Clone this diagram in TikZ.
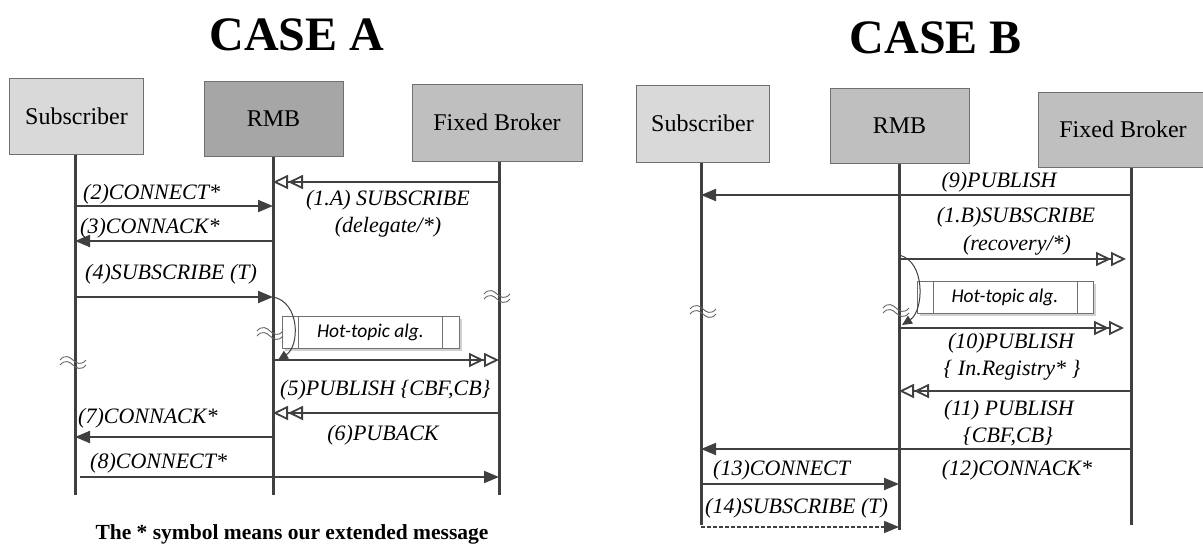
\documentclass[tikz,border=0pt]{standalone}
\usepackage{fontspec}
\setmainfont{Liberation Serif}
\newfontfamily\algfont{Carlito}
\usetikzlibrary{arrows.meta,shadows}
\definecolor{ink}{HTML}{404040}
\definecolor{boxline}{HTML}{707070}
\definecolor{fillA}{HTML}{D9D9D9}
\definecolor{fillB}{HTML}{A6A6A6}
\definecolor{fillC}{HTML}{BFBFBF}
\begin{document}
\begin{tikzpicture}[x=1pt,y=-1pt,
  actor/.style={draw=boxline, line width=1pt, inner sep=0pt,
    font=\fontsize{24}{28}\selectfont},
  life/.style={draw=ink, line width=3pt},
  msg/.style={draw=ink, line width=2pt, -{Triangle[length=15pt,width=12pt]}},
  dmsg/.style={draw=ink, line width=2pt,
    -{Triangle[open,length=15pt,width=14pt,line width=1.8pt]Triangle[open,length=15pt,width=14pt,line width=1.8pt]}},
  lbl/.style={font=\fontsize{22}{26}\selectfont\itshape, inner sep=0pt, anchor=base},
  lbll/.style={lbl, anchor=base west},
  title/.style={font=\fontsize{48}{54}\selectfont\bfseries, inner sep=0pt, anchor=base},
  alg/.style={draw=boxline, line width=1pt, fill=white, inner sep=0pt,
    font=\algfont\itshape\fontsize{19.5}{22}\selectfont,
    drop shadow={shadow xshift=3pt, shadow yshift=-3pt, fill=black!18, opacity=1}},
  curv/.style={draw=ink, line width=1pt, -{Triangle[length=10pt,width=9pt]}},
  brkline/.style={draw=ink!80, line width=0.9pt},
  brk/.pic={
    \draw[brkline] (-13,0) .. controls (-8,-6) and (-3,-3) .. (0,0) .. controls (3,3) and (8,6) .. (13,0);
    \draw[brkline] (-13,5) .. controls (-8,-1) and (-3,2) .. (0,5) .. controls (3,8) and (8,11) .. (13,5);
  }]
\useasboundingbox (0,0) rectangle (1203,544);

% ---------------- titles ----------------
\node[title] (tA) at (297,50) {CASE A};
\node[title] (tB) at (936,53) {CASE B};

% ---------------- case A: actors and lifelines ----------------
\node[actor, fill=fillA, minimum width=134pt, minimum height=76pt] (subA) at (76.5,116) {Subscriber};
\node[actor, fill=fillB, minimum width=139pt, minimum height=75pt] (rmbA) at (273.5,118.5) {RMB};
\node[actor, fill=fillC, minimum width=170pt, minimum height=77pt] (fbA) at (497,122.5) {Fixed Broker};

\coordinate (sA) at (75,0);
\coordinate (rA) at (273,0);
\coordinate (fA) at (499,0);
\coordinate (endA) at (0,495);
\draw[life] (sA |- subA.south) -- (sA |- endA);
\draw[life] (rA |- rmbA.south) -- (rA |- endA);
\draw[life] (fA |- fbA.south) -- (fA |- endA);

% message rows, case A
\coordinate (a1) at (0,182);
\coordinate (a2) at (0,206);
\coordinate (a3) at (0,241);
\coordinate (a4) at (0,297);
\coordinate (ah) at (0,360);
\coordinate (a5) at (0,413);
\coordinate (a7) at (0,437);
\coordinate (a8) at (0,477);

\draw[dmsg] (fA |- a1) -- (rA |- a1);
\node[lbl] (l1a) at (388,205) {(1.A) SUBSCRIBE};
\node[lbl] (l1b) at (388,232) {(delegate/*)};

\draw[msg] (sA |- a2) -- (rA |- a2);
\node[lbll] (l2) at (83,199) {(2)CONNECT*};

\draw[msg] (rA |- a3) -- (sA |- a3);
\node[lbll] (l3) at (80,233) {(3)CONNACK*};

\draw[msg] (sA |- a4) -- (rA |- a4);
\node[lbll] (l4) at (85,279) {(4)SUBSCRIBE (T)};

% hot-topic processing, case A
\node[alg, minimum width=177pt, minimum height=32pt] (hA) at (370.5,332) {Hot-topic alg.};
\draw[boxline, line width=1pt] ([xshift=17pt]hA.north west) -- ([xshift=17pt]hA.south west);
\draw[boxline, line width=1pt] ([xshift=-17pt]hA.north east) -- ([xshift=-17pt]hA.south east);
\draw[curv] (rA |- a4) .. controls +(27,5) and +(22,-14) .. ([xshift=5pt]rA |- ah);

\draw[dmsg] (rA |- ah) -- (fA |- ah);

\draw[dmsg] (fA |- a5) -- (rA |- a5);
\node[lbll] (l5) at (280,395) {(5)PUBLISH \{CBF,CB\}};
\node[lbl] (l6) at (383,440) {(6)PUBACK};

\draw[msg] (rA |- a7) -- (sA |- a7);
\node[lbll] (l7) at (78,423) {(7)CONNACK*};

\draw[msg] ([xshift=5pt]sA |- a8) -- (fA |- a8);
\node[lbll] (l8) at (90,468) {(8)CONNECT*};

% time breaks, case A
\pic at (270,331) {brk};
\pic at (73,360) {brk};
\pic at (497,294) {brk};

\node[font=\fontsize{21.5}{24}\selectfont\bfseries, inner sep=0pt, anchor=base] (note) at (292,539)
  {The * symbol means our extended message};

% ---------------- case B: actors and lifelines ----------------
\node[actor, fill=fillA, minimum width=133pt, minimum height=77pt] (subB) at (702.5,123.5) {Subscriber};
\node[actor, fill=fillC, minimum width=139pt, minimum height=75pt] (rmbB) at (899.5,125.5) {RMB};
\node[actor, fill=fillC, minimum width=170pt, minimum height=75pt] (fbB) at (1123,129.5) {Fixed Broker};

\coordinate (sB) at (701,0);
\coordinate (rB) at (899,0);
\coordinate (fB) at (1131,0);
\draw[life] (sB |- subB.south) -- (sB |- 0,525);
\draw[life] (rB |- rmbB.south) -- (rB |- 0,530);
\draw[life] (fB |- fbB.south) -- (fB |- 0,525);

% message rows, case B
\coordinate (b9) at (0,195);
\coordinate (b1) at (0,259);
\coordinate (b10) at (0,328);
\coordinate (b11) at (0,391);
\coordinate (b12) at (0,449);
\coordinate (b13) at (0,484);
\coordinate (b14) at (0,527);

\draw[msg] (fB |- b9) -- (sB |- b9);
\node[lbl] (l9) at (999,187) {(9)PUBLISH};

\draw[dmsg] (rB |- b1) -- ([xshift=-5pt]fB |- b1);
\node[lbl] (l1Ba) at (1016,222) {(1.B)SUBSCRIBE};
\node[lbl] (l1Bb) at (1017,250) {(recovery/*)};

% hot-topic processing, case B
\node[alg, minimum width=176pt, minimum height=32pt] (hB) at (1005,297) {Hot-topic alg.};
\draw[boxline, line width=1pt] ([xshift=17pt]hB.north west) -- ([xshift=17pt]hB.south west);
\draw[boxline, line width=1pt] ([xshift=-16pt]hB.north east) -- ([xshift=-16pt]hB.south east);
\draw[curv] ([yshift=4pt]rB |- b1) .. controls +(27,6) and +(22,-14) .. ([xshift=3pt]rB |- 0,325);

\draw[dmsg] (rB |- b10) -- ([xshift=-7pt]fB |- b10);
\node[lbl] (l10a) at (1011,348) {(10)PUBLISH};
\node[lbl] (l10b) at (1012,375) {\{ In.Registry* \}};

\draw[dmsg] (fB |- b11) -- (rB |- b11);
\node[lbl] (l11a) at (1009,415) {(11) PUBLISH};
\node[lbl] (l11b) at (1008,442) {\{CBF,CB\}};

\draw[msg] (fB |- b12) -- (sB |- b12);
\node[lbl] (l12) at (1017,475) {(12)CONNACK*};

\draw[msg] (sB |- b13) -- (rB |- b13);
\node[lbll] (l13) at (713,475) {(13)CONNECT};

\draw[msg, dashed, dash pattern=on 4pt off 2pt, line width=1.6pt] (sB |- b14) -- (rB |- b14);
\node[lbll] (l14) at (705,513) {(14)SUBSCRIBE (T)};

% time breaks, case B
\pic at (703,309) {brk};
\pic at (896,308) {brk};
\end{tikzpicture}
\end{document}
